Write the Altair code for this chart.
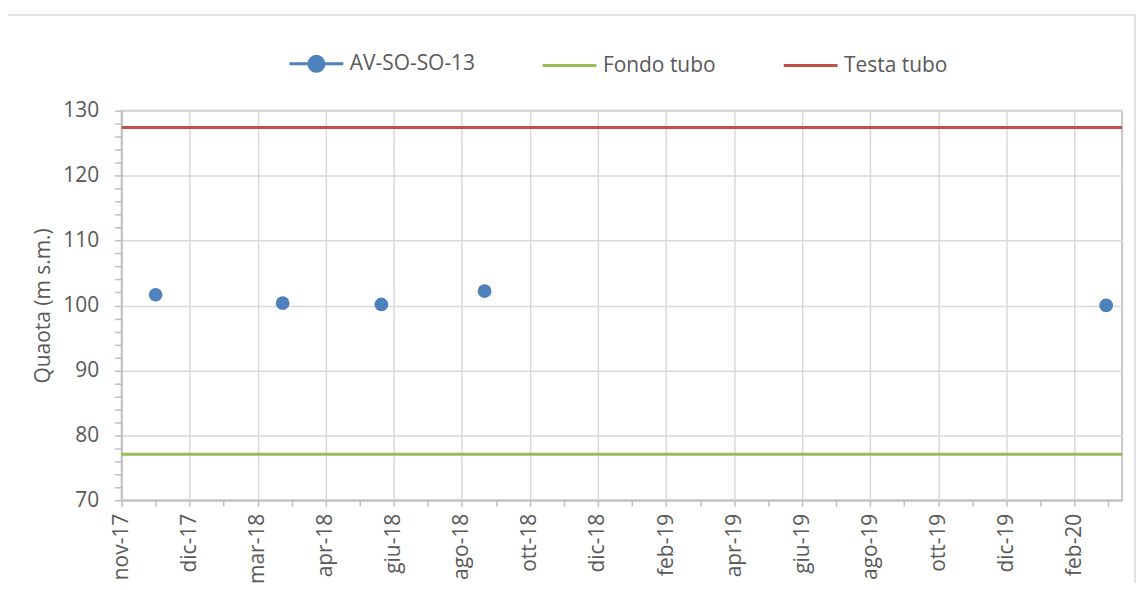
import altair as alt
import pandas as pd

# ---------------- data ----------------
series_names = ["AV-SO-SO-13", "Fondo tubo", "Testa tubo"]
series_colors = ["#4f81bd", "#9bbb59", "#c0504d"]

obs_dates = ["2017-12-01", "2018-03-23", "2018-06-18", "2018-09-17", "2020-03-18"]
obs_quota = [101.65, 100.35, 100.15, 102.2, 100.0]

fondo_tubo = 77.1
testa_tubo = 127.4

x_start = "2017-11-01"
x_end = "2020-04-01"
major_tick_dates = ["2017-11-01", "2017-12-31", "2018-03-01", "2018-04-30", "2018-06-29",
                    "2018-08-28", "2018-10-27", "2018-12-26", "2019-02-24", "2019-04-25",
                    "2019-06-24", "2019-08-23", "2019-10-22", "2019-12-21", "2020-02-19"]
minor_tick_dates = ["2017-12-01", "2018-01-30", "2018-03-31", "2018-05-30", "2018-07-29",
                    "2018-09-27", "2018-11-26", "2019-01-25", "2019-03-26", "2019-05-25",
                    "2019-07-24", "2019-09-22", "2019-11-21", "2020-01-20", "2020-03-20"]
month_abbr = ["gen", "feb", "mar", "apr", "mag", "giu", "lug", "ago", "set", "ott", "nov", "dic"]

y_min, y_max = 70, 130
y_ticks = list(range(70, 131, 2))

y_title = "Quaota (m s.m.)"

FONT = "Open Sans"
TXT = "#595959"


def ms(s):
    return int(pd.Timestamp(s, tz="UTC").value // 10**6)


T0 = ms(x_start)
x_tick_values = sorted([ms(d) for d in major_tick_dates + minor_tick_dates])
major_test = f"round((datum.value - {T0}) / 864e5) % 60 == 0"
months_js = "[" + ",".join(f"'{m}'" for m in month_abbr) + "]"
x_label_expr = (f"({major_test}) ? {months_js}[utcmonth(datum.value)] + '-' + "
                f"utcFormat(datum.value, '%y') : ''")

pts = pd.DataFrame({
    "date": [ms(d) for d in obs_dates],
    "quota": obs_quota,
    "series": [series_names[0]] * len(obs_dates),
})
lines = pd.DataFrame({
    "series": [series_names[1], series_names[2]],
    "quota": [fondo_tubo, testa_tubo],
})

# ---------------- scales / guides ----------------
blue_sym = "M-1,0H1M-0.28,0A0.28,0.28,0,1,1,0.28,0A0.28,0.28,0,1,1,-0.28,0Z"
line_sym = "M-1,0H1"

legend = alt.Legend(
    orient="none", legendX=167, legendY=-76, direction="horizontal", title=None,
    symbolType=alt.ExprRef(f"datum.value == '{series_names[0]}' ? '{blue_sym}' : '{line_sym}'"),
    symbolSize=2916, symbolStrokeWidth=3, symbolOpacity=1,
    symbolFillColor=alt.ExprRef("scale('color', datum.value)"),
    symbolStrokeColor=alt.ExprRef("scale('color', datum.value)"),
    labelFont=FONT, labelFontSize=21, labelColor=TXT, labelOffset=5,
    columnPadding=61, padding=0,
)
color = alt.Color("series:N",
                  scale=alt.Scale(domain=series_names, range=series_colors),
                  legend=legend)

x_scale = alt.Scale(type="utc", domain=[ms(x_start), ms(x_end)], nice=False)
x_axis = alt.Axis(
    values=x_tick_values, labelExpr=x_label_expr, labelAngle=-90, labelOverlap=False,
    labelFlush=False, labelFont=FONT, labelFontSize=21, labelColor=TXT, labelPadding=7,
    tickColor="#bfbfbf", tickWidth=1.5, tickSize=6,
    gridColor="#d9d9d9", gridWidth=1.5,
    gridOpacity={"condition": {"test": major_test, "value": 1}, "value": 0},
    domainColor="#bfbfbf", domainWidth=1.5, title=None,
)
y_scale = alt.Scale(domain=[y_min, y_max], nice=False, zero=False)
y_axis = alt.Axis(
    values=y_ticks, labelExpr="datum.value % 10 == 0 ? datum.value : ''",
    labelFont=FONT, labelFontSize=21, labelColor=TXT, labelPadding=16,
    tickColor="#bfbfbf", tickWidth=1.5, tickSize=7,
    gridColor="#d9d9d9", gridWidth=1.5,
    gridOpacity={"condition": {"test": "datum.value % 10 == 0", "value": 1}, "value": 0},
    domainColor="#bfbfbf", domainWidth=1.5,
    title=y_title, titleFont=FONT, titleFontSize=21, titleFontWeight="normal",
    titleColor=TXT, titlePadding=9,
)

# ---------------- layers ----------------
frame = alt.Chart(pd.DataFrame({"k": [0]})).mark_rect(
    fillOpacity=0, stroke="#d9d9d9", strokeWidth=1.5
).encode(x=alt.value(-115), x2=alt.value(1017), y=alt.value(-96), y2=alt.value(600))

rules = alt.Chart(lines).mark_rule(strokeWidth=3).encode(
    y=alt.Y("quota:Q", scale=y_scale, axis=y_axis),
    color=color,
)

points = alt.Chart(pts).mark_circle(size=190, opacity=1).encode(
    x=alt.X("date:T", scale=x_scale, axis=x_axis),
    y=alt.Y("quota:Q", scale=y_scale, axis=y_axis),
    color=color,
)

chart = alt.layer(frame, rules, points).properties(
    width=1004, height=391,
    padding={"left": 114, "top": 102, "right": 14, "bottom": 82},
    autosize=alt.AutoSizeParams(type="none"),
).configure_view(stroke="#c8c8c8", strokeWidth=2)

chart.save("out.html", embed_options={"renderer": "svg", "actions": False})
